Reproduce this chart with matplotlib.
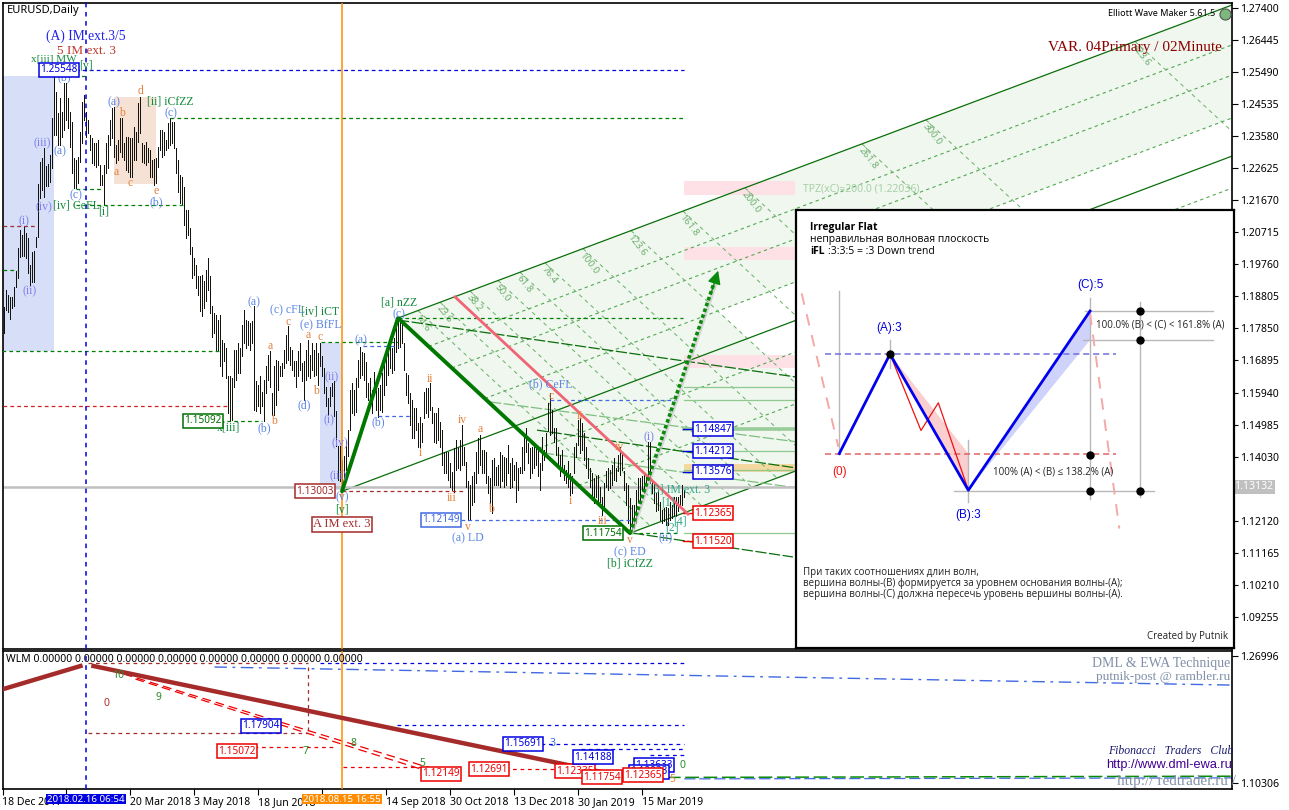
import matplotlib
matplotlib.use("Agg")
import matplotlib.pyplot as plt
from matplotlib.patches import Polygon, Rectangle

# daily bars (first bar is the one next to the left edge)
HIGHS = [
    1.1849, 1.1900, 1.1885, 1.1879, 1.1879, 1.1909, 1.1956, 1.2025, 1.2079, 1.2064, 1.2091, 1.2070, 1.2055,
    1.1974, 1.2013, 1.2016, 1.2058, 1.2216, 1.2281, 1.2293, 1.2323, 1.2269, 1.2275, 1.2302, 1.2412, 1.2543,
    1.2490, 1.2427, 1.2472, 1.2430, 1.2517, 1.2517, 1.2472, 1.2430, 1.2400, 1.2293, 1.2287, 1.2296, 1.2371,
    1.2460, 1.2481, 1.2430, 1.2406, 1.2362, 1.2353, 1.2338, 1.2338, 1.2347, 1.2272, 1.2243, 1.2272, 1.2338,
    1.2362, 1.2406, 1.2442, 1.2445, 1.2332, 1.2347, 1.2412, 1.2412, 1.2338, 1.2356, 1.2356, 1.2353, 1.2353,
    1.2386, 1.2371, 1.2457, 1.2475, 1.2338, 1.2332, 1.2341, 1.2323, 1.2317, 1.2287, 1.2290, 1.2293, 1.2326,
    1.2377, 1.2377, 1.2371, 1.2347, 1.2397, 1.2412, 1.2400, 1.2400, 1.2323, 1.2287, 1.2243, 1.2237, 1.2207,
    1.2138, 1.2138,
    1.2084, 1.2029, 1.1995, 1.1975, 1.1940, 1.1940, 1.1945, 1.1925, 1.1960, 1.1995, 1.1940, 1.1851, 1.1831,
    1.1826, 1.1811, 1.1826, 1.1751, 1.1741, 1.1727, 1.1642, 1.1642, 1.1637, 1.1722, 1.1722, 1.1741, 1.1727,
    1.1796, 1.1841, 1.1811, 1.1806, 1.1801, 1.1806, 1.1851, 1.1627, 1.1617, 1.1642, 1.1597, 1.1632, 1.1672,
    1.1707, 1.1717, 1.1592, 1.1672, 1.1692, 1.1687, 1.1672, 1.1682, 1.1722, 1.1766, 1.1791, 1.1731, 1.1722,
    1.1687, 1.1687, 1.1717, 1.1741, 1.1682, 1.1687, 1.1722, 1.1751, 1.1707, 1.1741, 1.1722, 1.1741, 1.1712,
    1.1741, 1.1702, 1.1667, 1.1612, 1.1578, 1.1612, 1.1622, 1.1627, 1.1538, 1.1434, 1.1434, 1.1394, 1.1404,
    1.1453, 1.1483, 1.1602,
    1.1622, 1.1602, 1.1636, 1.1691, 1.1731, 1.1716, 1.1711, 1.1686, 1.1622, 1.1636, 1.1602, 1.1656, 1.1631,
    1.1607, 1.1617, 1.1651, 1.1696, 1.1696, 1.1721, 1.1741, 1.1726, 1.1756, 1.1785, 1.1805, 1.1810, 1.1800,
    1.1741, 1.1651, 1.1646, 1.1592, 1.1572, 1.1547, 1.1547, 1.1502, 1.1522, 1.1502, 1.1597, 1.1607, 1.1607,
    1.1622, 1.1552, 1.1532, 1.1532, 1.1547, 1.1507, 1.1483, 1.1418, 1.1418, 1.1418, 1.1383, 1.1358, 1.1428,
    1.1453, 1.1428, 1.1453, 1.1497, 1.1433, 1.1388, 1.1329, 1.1319, 1.1344, 1.1358, 1.1418, 1.1458, 1.1468,
    1.1423, 1.1423, 1.1418, 1.1344, 1.1339, 1.1393, 1.1398, 1.1373, 1.1378, 1.1418, 1.1408, 1.1403, 1.1398,
    1.1438, 1.1383, 1.1398, 1.1378, 1.1388, 1.1368, 1.1373, 1.1433, 1.1468, 1.1487, 1.1443,
    1.1428, 1.1433, 1.1443, 1.1428, 1.1433, 1.1384, 1.1463, 1.1423, 1.1473, 1.1562, 1.1592, 1.1542, 1.1488,
    1.1488, 1.1433, 1.1408, 1.1423, 1.1379, 1.1364, 1.1389, 1.1354, 1.1344, 1.1433, 1.1443, 1.1513, 1.1518,
    1.1503, 1.1473, 1.1433, 1.1398, 1.1369, 1.1354, 1.1339, 1.1344, 1.1349, 1.1314, 1.1284, 1.1324, 1.1359,
    1.1369, 1.1364, 1.1379, 1.1398, 1.1369, 1.1408, 1.1433, 1.1413, 1.1359, 1.1324, 1.1319, 1.1279, 1.1259,
    1.1259, 1.1304, 1.1339, 1.1339, 1.1344, 1.1349, 1.1349, 1.1448, 1.1448, 1.1334, 1.1324, 1.1294, 1.1304,
    1.1269, 1.1244, 1.1249, 1.1254, 1.1249, 1.1269, 1.1259, 1.1284, 1.1284, 1.1284, 1.1289, 1.1319, 1.1304,
]
LOWS = [
    1.1772, 1.1840, 1.1834, 1.1813, 1.1846, 1.1852, 1.1909, 1.1936, 1.1998, 1.2001, 1.2001, 1.1995, 1.1950,
    1.1915, 1.1924, 1.1924, 1.2028, 1.2058, 1.2174, 1.2198, 1.2177, 1.2210, 1.2210, 1.2222, 1.2263, 1.2362,
    1.2362, 1.2332, 1.2332, 1.2356, 1.2377, 1.2406, 1.2383, 1.2326, 1.2248, 1.2204, 1.2204, 1.2219, 1.2281,
    1.2338, 1.2406, 1.2356, 1.2368, 1.2317, 1.2278, 1.2272, 1.2266, 1.2272, 1.2213, 1.2213, 1.2153, 1.2248,
    1.2263, 1.2332, 1.2353, 1.2296, 1.2278, 1.2287, 1.2311, 1.2296, 1.2287, 1.2257, 1.2251, 1.2237, 1.2237,
    1.2287, 1.2287, 1.2341, 1.2368, 1.2281, 1.2278, 1.2272, 1.2281, 1.2237, 1.2237, 1.2213, 1.2219, 1.2266,
    1.2317, 1.2296, 1.2302, 1.2317, 1.2323, 1.2332, 1.2338, 1.2323, 1.2248, 1.2192, 1.2159, 1.2153, 1.2094,
    1.2055, 1.2064,
    1.2008, 1.1935, 1.1945, 1.1905, 1.1885, 1.1836, 1.1821, 1.1846, 1.1866, 1.1900, 1.1831, 1.1761, 1.1771,
    1.1717, 1.1717, 1.1672, 1.1642, 1.1687, 1.1637, 1.1533, 1.1513, 1.1513, 1.1612, 1.1632, 1.1652, 1.1652,
    1.1702, 1.1741, 1.1727, 1.1736, 1.1722, 1.1741, 1.1543, 1.1538, 1.1553, 1.1533, 1.1553, 1.1508, 1.1592,
    1.1632, 1.1612, 1.1528, 1.1528, 1.1558, 1.1602, 1.1642, 1.1642, 1.1667, 1.1682, 1.1692, 1.1677, 1.1662,
    1.1642, 1.1612, 1.1642, 1.1662, 1.1627, 1.1573, 1.1632, 1.1642, 1.1637, 1.1662, 1.1642, 1.1647, 1.1617,
    1.1672, 1.1642, 1.1592, 1.1553, 1.1528, 1.1553, 1.1583, 1.1523, 1.1434, 1.1334, 1.1329, 1.1300, 1.1334,
    1.1364, 1.1404, 1.1483,
    1.1532, 1.1527, 1.1537, 1.1612, 1.1636, 1.1646, 1.1631, 1.1582, 1.1572, 1.1552, 1.1532, 1.1592, 1.1542,
    1.1522, 1.1542, 1.1537, 1.1587, 1.1617, 1.1646, 1.1666, 1.1651, 1.1661, 1.1716, 1.1726, 1.1731, 1.1741,
    1.1661, 1.1587, 1.1562, 1.1497, 1.1458, 1.1458, 1.1483, 1.1433, 1.1428, 1.1448, 1.1517, 1.1532, 1.1522,
    1.1542, 1.1502, 1.1448, 1.1443, 1.1453, 1.1433, 1.1378, 1.1353, 1.1353, 1.1334, 1.1314, 1.1304, 1.1299,
    1.1363, 1.1368, 1.1363, 1.1378, 1.1378, 1.1314, 1.1214, 1.1214, 1.1259, 1.1269, 1.1324, 1.1353, 1.1378,
    1.1353, 1.1353, 1.1324, 1.1294, 1.1264, 1.1234, 1.1319, 1.1319, 1.1319, 1.1314, 1.1329, 1.1314, 1.1319,
    1.1353, 1.1309, 1.1314, 1.1334, 1.1269, 1.1304, 1.1353, 1.1353, 1.1363, 1.1418, 1.1383,
    1.1339, 1.1354, 1.1369, 1.1379, 1.1344, 1.1304, 1.1364, 1.1393, 1.1418, 1.1478, 1.1468, 1.1473, 1.1448,
    1.1408, 1.1379, 1.1344, 1.1364, 1.1334, 1.1324, 1.1314, 1.1289, 1.1294, 1.1354, 1.1403, 1.1438, 1.1413,
    1.1423, 1.1393, 1.1369, 1.1339, 1.1314, 1.1284, 1.1264, 1.1284, 1.1264, 1.1269, 1.1230, 1.1249, 1.1314,
    1.1304, 1.1309, 1.1319, 1.1334, 1.1329, 1.1359, 1.1349, 1.1364, 1.1304, 1.1259, 1.1205, 1.1175, 1.1180,
    1.1190, 1.1205, 1.1269, 1.1269, 1.1304, 1.1294, 1.1324, 1.1334, 1.1324, 1.1294, 1.1264, 1.1240, 1.1244,
    1.1215, 1.1205, 1.1210, 1.1200, 1.1200, 1.1215, 1.1220, 1.1225, 1.1225, 1.1240, 1.1254, 1.1259, 1.1284,
]

PRICE_TICKS = [1.27400, 1.26445, 1.25490, 1.24535, 1.23580, 1.22625, 1.21670, 1.20715, 1.19760, 1.18805,
               1.17850, 1.16895, 1.15940, 1.14985, 1.14030, 1.12120, 1.11165, 1.10210, 1.09255]
SUB_TICKS = [1.26996, 1.10306]
# the 31 Jan and 1 Aug labels sit under the date boxes in the original, so they stay empty
DATE_LABELS = ["18 Dec 2017", "", "20 Mar 2018", "3 May 2018", "18 Jun 2018", "",
               "14 Sep 2018", "30 Oct 2018", "13 Dec 2018", "30 Jan 2019", "15 Mar 2019"]
DATE_BARS = [-1, 31, 63, 95, 127, 159, 191, 223, 255, 287, 319]

# the (c) - v zigzag and the channel built on it
ZZ_BARS = [169, 197, 313]
ZZ_PRICES = [1.1300, 1.1816, 1.1175]
RIGHT_BAR = 614
CHANNEL_SLOPE = 0.0002237
CHANNEL_LEVELS = [0.132, 0.232, 0.374, 0.606, 0.778]
FIB_BARS = [207, 218, 233, 247, 258, 270.5, 289.5, 313.5, 339.5, 370.5, 429, 461, 565.5]
FIB_NAMES = ["14.6", "23.6", "38.2", "50.0", "61.8", "76.4", "100.0", "123.6", "161.8", "200.0",
             "261.8", "300.0", "423.6"]

# horizontal levels: (from bar, to bar, price, colour)
LEVELS = [
    (25.5, 340, 1.2554, "#0000e0"),
    (83, 340, 1.2412, "#008000"),
    (36, 90, 1.2153, "#008000"),
    (36, 48.5, 1.2201, "#008000"),
    (25, 41, 1.2537, "#008000"),
    (-1, 107.5, 1.1718, "#008000"),
    (-0.5, 16, 1.2090, "#a52a2a"),
    (-0.5, 6.5, 1.1959, "#008000"),
    (-0.5, 113, 1.1554, "#cc2222"),
    (108, 129, 1.1509, "#008000"),
    (158.5, 197, 1.1745, "#008000"),
    (179.5, 197, 1.1733, "#4169e1"),
    (187, 203.5, 1.1524, "#4169e1"),
    (169, 230.5, 1.1301, "#a52a2a"),
    (228.5, 313, 1.1214, "#4169e1"),
    (273, 336.5, 1.1572, "#4169e1"),
    (197, 339.5, 1.1816, "#008000"),
    (314, 338, 1.1175, "#008000"),
]
# target levels right of the last bar
TARGET_PRICES = [1.1610, 1.1572, 1.1421, 1.1363, 1.1175]
LEADER_PRICES = [1.1485, 1.1420, 1.1357, 1.1235, 1.1152]
LEADER_COLORS = ["#0000e0", "#0000e0", "#0000e0", "#ee0000", "#ee0000"]
# zones: (from bar, to bar, low, high, colour)
ZONES = [
    (-1, 25, 1.1718, 1.2537, "#d6dff7"),
    (158, 169, 1.1304, 1.1742, "#d6dff7"),
    (55, 76, 1.2216, 1.2474, "#f5e2d5"),
    (340, 395.5, 1.2183, 1.2225, "#fde1e6"),
    (340, 395.5, 1.1989, 1.2028, "#fde1e6"),
    (340, 395.5, 1.1667, 1.1706, "#fde1e6"),
    (340, 396.5, 1.1357, 1.1381, "#f3d9a0"),
]
# falling fan lines: (bar, price, bar, price, colour)
FAN_LINES = [
    (197, 1.1810, 396.5, 1.1640, "#0a6e0a"),
    (266.5, 1.1482, 396.5, 1.1369, "#0a6e0a"),
    (314.5, 1.1175, 394.5, 1.1104, "#0a6e0a"),
    (243, 1.1566, 396.5, 1.1447, "#7fbf7f"),
    (269.5, 1.1414, 396.5, 1.1310, "#7fbf7f"),
]

# lower window
SUB_WAVE_BARS = [-0.5, 38, float("nan"), 44.5, 313]
SUB_WAVE_VALUES = [1.2266, 1.2568, float("nan"), 1.2568, 1.1096]
SUB_LEVELS = [
    (42, 152, 1.2608, "#a52a2a"),
    (42, 152, 1.1688, "#a52a2a"),
    (158, 340, 1.2608, "#0000e0"),
    (196.5, 340, 1.1793, "#0000e0"),
    (268.5, 340, 1.1543, "#0000e0"),
    (288.5, 340, 1.1474, "#0000e0"),
    (323, 340, 1.1399, "#0000e0"),
    (125, 164.5, 1.1503, "#ee0000"),
    (169.5, 229.5, 1.1241, "#ee0000"),
    (250.5, 278, 1.1215, "#ee0000"),
]
SUB_FALL_A = ([53, 213], [1.2516, 1.1228])
SUB_FALL_B = ([65.5, 213], [1.2397, 1.1175])
SUB_BLUE_CURVE = ([105, 613], [1.2555, 1.2318])
SUB_GREEN_CURVE = ([313, 614], [1.1103, 1.1120])

# Irregular Flat scheme (its own little coordinate system)
SCHEME_X = [133, 285, 520, 885]
SCHEME_Y = [745, 447, 855, 318]
SCHEME_RED_X = [285, 378, 430, 520]
SCHEME_RED_Y = [447, 676, 593, 855]
SCHEME_DOTS_X = [285, 885, 885, 1036, 1036, 1036]
SCHEME_DOTS_Y = [447, 748, 856, 318, 404, 856]

BLUE = "#5b86e5"
VIOLET = "#8080ee"
ORANGE = "#e5803c"
GREEN = "#128a3c"
TEAL = "#2fa884"
SERIF = "Liberation Serif"
SANS = "Noto Sans"

W, H = 1289, 810
fig = plt.figure(figsize=(W / 100, H / 100), dpi=100, facecolor="white")


def add_box(left, top, right, bottom):
    return fig.add_axes([left / W, 1 - bottom / H, (right - left) / W, (bottom - top) / H])


def label(x, y, text, color, size=8.5, family=SERIF, ha="center", **kw):
    fig.text(x / W, 1 - y / H, text, color=color, size=size, family=family, ha=ha, va="center", **kw)


def price_box(x, y, text, color, size=7.2, fc="white"):
    label(x, y, text, color, size=size, family=SANS, zorder=6,
          bbox=dict(boxstyle="square,pad=0.12", fc=fc, ec=color, lw=1.1))


ax = add_box(2.5, 2.5, 1232, 649)
ax.set_xlim(-0.75, RIGHT_BAR)
ax.set_ylim(1.08298, 1.27563)
sub = add_box(2.5, 650.5, 1232, 789)
sub.set_xlim(-0.75, RIGHT_BAR)
sub.set_ylim(1.0952, 1.2772)

for a in (ax, sub):
    a.yaxis.tick_right()
    for side in a.spines.values():
        side.set_linewidth(1.2)
    a.tick_params(axis="y", length=4, width=0.8, labelsize=7.5, pad=2)

ax.set_yticks(PRICE_TICKS)
ax.set_yticklabels(["%.5f" % v for v in PRICE_TICKS], family=SANS)
ax.set_xticks([])
sub.set_yticks(SUB_TICKS)
sub.set_yticklabels(["%.5f" % v for v in SUB_TICKS], family=SANS)
sub.set_xticks(DATE_BARS)
sub.set_xticklabels(DATE_LABELS, ha="left", family=SANS, size=7.5)
sub.tick_params(axis="x", length=4, width=0.8, pad=2)

# zones
for x0, x1, lo, hi, col in ZONES[:3]:
    ax.add_patch(Rectangle((x0, lo), x1 - x0, hi - lo, fc=col, ec="none", zorder=0))


# channel geometry
def top_line(bar):
    return ZZ_PRICES[1] + CHANNEL_SLOPE * (bar - ZZ_BARS[1])


span = top_line(ZZ_BARS[2]) - ZZ_PRICES[2]
cross_slope = (ZZ_PRICES[2] - ZZ_PRICES[1]) / (ZZ_BARS[2] - ZZ_BARS[1])
cross_run = span / (CHANNEL_SLOPE - cross_slope)


def level_line(level, bar):
    return top_line(bar) - level * span


def level_start(level):
    return ZZ_BARS[1] + (ZZ_BARS[2] - ZZ_BARS[1]) * level


# tint of the channel
tint = "#eff7ef"
lev = CHANNEL_LEVELS[2]
ax.add_patch(Polygon([(ZZ_BARS[1], ZZ_PRICES[1]), (RIGHT_BAR, top_line(RIGHT_BAR)),
                      (RIGHT_BAR, level_line(lev, RIGHT_BAR)),
                      (level_start(lev), level_line(lev, level_start(lev)))], fc=tint, ec="none", zorder=0.5))
edge = FIB_BARS[7]
ax.add_patch(Polygon([(level_start(lev), level_line(lev, level_start(lev))),
                      (edge + lev * cross_run, level_line(lev, edge + lev * cross_run)),
                      (edge + cross_run, level_line(1, edge + cross_run)),
                      (ZZ_BARS[2], ZZ_PRICES[2])], fc=tint, ec="none", zorder=0.5))

for x0, x1, lo, hi, col in ZONES[3:]:
    ax.add_patch(Rectangle((x0, lo), x1 - x0, hi - lo, fc=col, ec="none", zorder=0.6))

# channel dashed levels and cross lines
for lev in CHANNEL_LEVELS:
    s = level_start(lev)
    ax.plot([s, RIGHT_BAR], [level_line(lev, s), level_line(lev, RIGHT_BAR)], color="#52a852", lw=0.8,
            ls=(0, (3, 3)), zorder=1)
for bar, name in zip(FIB_BARS, FIB_NAMES):
    end = min(bar + cross_run, RIGHT_BAR)
    ax.plot([bar, end], [top_line(bar), top_line(bar) + cross_slope * (end - bar)], color="#66b066", lw=0.7,
            ls=(0, (4, 4)), zorder=1)
    ax.text(bar + 1, top_line(bar) - 0.0005, name, color="#6fae6f", size=7, rotation=-52, family=SANS,
            ha="left", va="top", rotation_mode="anchor", zorder=2)

# solid channel edges
ax.plot([ZZ_BARS[1], RIGHT_BAR], [ZZ_PRICES[1], top_line(RIGHT_BAR)], color="#0a6e0a", lw=0.9, zorder=2)
ax.plot([ZZ_BARS[0], RIGHT_BAR], [ZZ_PRICES[0], level_line(0.5, RIGHT_BAR)], color="#0a6e0a", lw=0.9, zorder=2)
ax.plot([ZZ_BARS[2], RIGHT_BAR], [ZZ_PRICES[2], level_line(1, RIGHT_BAR)], color="#0a6e0a", lw=0.9, zorder=2)
for x0, y0, x1, y1, col in FAN_LINES:
    ax.plot([x0, x1], [y0, y1], color=col, lw=0.9, ls=(0, (9, 2)), zorder=2)
for p in TARGET_PRICES:
    ax.plot([340, 396.5], [p, p], color="#8fc98f", lw=0.9, zorder=2)
ax.plot([340, 396.5], [1.1484, 1.1484], color="#99cc99", lw=2.6, zorder=2)

# price bars
bars = ax.vlines(range(len(HIGHS)), LOWS, HIGHS, color="#14140f", lw=0.72, zorder=3)
bars.set_snap(True)
bars.set_antialiased(False)

# levels
ax.axhline(1.13132, color="#c0c0c0", lw=1.8, zorder=2.5)
for x0, x1, p, col in LEVELS:
    ax.plot([x0, x1], [p, p], color=col, lw=0.9, ls=(0, (3, 2.5)), zorder=3)
for p, col in zip(LEADER_PRICES, LEADER_COLORS):
    ax.plot([339.5, 345.5], [p, p], color=col, lw=1, zorder=3)
for a in (ax, sub):
    a.axvline(41, color="#0000e0", lw=1.1, ls=(0, (3, 3)), zorder=3)
    a.axvline(169, color="#ff8c00", lw=1.1, zorder=3)

# zigzag, red line and the forecast arrow
ax.plot(ZZ_BARS, ZZ_PRICES, color="#007800", lw=2.8, zorder=4, solid_capstyle="round")
ax.plot([225.5, 342], [1.1879, 1.1232], color="#f06474", lw=2, zorder=4)
ax.plot([314, 356], [1.1175, 1.1920], color="#c8c8c8", lw=2.4, alpha=0.7, zorder=3.5)
ax.plot([313, 355], [1.1175, 1.1920], color="#0a8a0a", lw=2.6, ls=(0, (1, 0.7)), zorder=4)
ax.annotate("", xy=(357.5, 1.1965), xytext=(353, 1.1880), zorder=4,
            arrowprops=dict(arrowstyle="-|>", color="#0a8a0a", lw=1, mutation_scale=20))
ax.plot([610.5], [1.2723], "o", ms=8, color="#7cb87c", mec="#555555", mew=0.8, zorder=5)

# lower window
sub.plot(SUB_WAVE_BARS, SUB_WAVE_VALUES, color="#a52a2a", lw=3.2, zorder=4)
for x0, x1, p, col in SUB_LEVELS:
    sub.plot([x0, x1], [p, p], color=col, lw=0.9, ls=(0, (3, 3)), zorder=3)
sub.plot([152, 152], [1.2560, 1.1688], color="#a52a2a", lw=0.9, ls=(0, (3, 3)))
sub.plot(*SUB_FALL_A, color="#ee0000", lw=0.9, ls=(0, (7, 4)), zorder=2)
sub.plot(*SUB_FALL_B, color="#ee0000", lw=0.9, ls=(0, (7, 4)), zorder=2)
sub.plot(*SUB_BLUE_CURVE, color="#4169e1", lw=1, ls=(0, (9, 4, 2, 4)), zorder=2)
sub.plot(*SUB_GREEN_CURVE, color="#0a8a0a", lw=1.1, ls=(0, (9, 3)), zorder=3)
sub.plot([340, 614], [1.1085, 1.1098], color="#4169e1", lw=0.9, ls=(0, (9, 3)), zorder=2)

# scheme panel
panel = add_box(796, 210, 1234, 648)
panel.set_zorder(5)
panel.set_xlim(3, 1317)
panel.set_ylim(1328, 15)
panel.set_xticks([])
panel.set_yticks([])
for side in panel.spines.values():
    side.set_linewidth(1.6)
panel.add_patch(Polygon([(285, 447), (520, 745), (520, 855)], fc="#fbcfcf", ec="none"))
panel.add_patch(Polygon([(885, 318), (885, 405), (520, 855)], fc="#cfd2fa", ec="none"))
grey = dict(color="#b8b8b8", lw=1)
panel.plot([133, 133], [258, 745], **grey)
panel.plot([285, 285], [405, 490], **grey)
panel.plot([520, 520], [705, 890], **grey)
panel.plot([885, 885], [278, 880], **grey)
panel.plot([1036, 1036], [290, 875], **grey)
panel.plot([870, 1255], [318, 318], **grey)
panel.plot([865, 1255], [404, 404], **grey)
panel.plot([478, 1078], [856, 856], **grey)
panel.plot([90, 962], [447, 447], color="#6f6fdc", lw=1.1, ls=(0, (4, 2.5)))
panel.plot([90, 962], [747, 747], color="#e06464", lw=1.1, ls=(0, (4, 2.5)))
panel.plot([20, 130], [265, 725], color="#f4a8a8", lw=1.4, ls=(0, (6, 5)))
panel.plot([885, 973], [325, 970], color="#f4a8a8", lw=1.4, ls=(0, (6, 5)))
panel.plot(SCHEME_RED_X, SCHEME_RED_Y, color="#ee1111", lw=0.9)
panel.plot(SCHEME_X, SCHEME_Y, color="#0000ee", lw=2)
panel.plot(SCHEME_DOTS_X, SCHEME_DOTS_Y, "o", color="black", ms=5, ls="none")

OS = "Open Sans"
panel.text(46, 67, "Irregular Flat", size=7.5, weight="bold", family=OS, va="center")
panel.text(46, 104, "неправильная волновая плоскость", size=7.5, family=OS, va="center")
panel.text(46, 139, "iFL", size=7.5, weight="bold", family=OS, va="center")
panel.text(100, 139, ":3:3:5 = :3 Down trend", size=7.5, family=OS, va="center")
panel.text(133, 800, "(0)", size=8.5, color="#ee1111", family="Liberation Sans", ha="center", va="center")
panel.text(283, 369, "(A):3", size=8.5, color="#0000dd", family="Liberation Sans", ha="center", va="center")
panel.text(520, 928, "(B):3", size=8.5, color="#0000dd", family="Liberation Sans", ha="center", va="center")
panel.text(885, 239, "(C):5", size=8.5, color="#0000dd", family="Liberation Sans", ha="center", va="center")
panel.text(594, 800, "100% (A) < (B) ≤ 138.2% (A)", size=7, family=OS, va="center", color="#222222")
panel.text(904, 361, "100.0% (B) < (C) < 161.8% (A)", size=7, family=OS, va="center", color="#222222")
panel.text(23, 1101, "При таких соотношениях длин волн,", size=7, family=OS, va="center", color="#222222")
panel.text(23, 1134, "вершина волны-(B) формируется за уровнем основания волны-(A);", size=7, family=OS,
           va="center", color="#222222")
panel.text(23, 1167, "вершина волны-(C) должна пересечь уровень вершины волны-(A).", size=7, family=OS,
           va="center", color="#222222")
panel.text(1298, 1295, "Created by Putnik", size=7, family=OS, ha="right", va="center", color="#222222")

# wave labels on the main window
label(7, 10, "EURUSD,Daily", "black", 8, SANS, ha="left")
label(86, 36, "(A) IM ext.3/5", "#2222ee", 9.8)
label(86, 51, "5 IM ext. 3", "#c0392b", 9.5)
label(54, 59, "x[iii] MW", GREEN, 8)
price_box(59, 70, "1.25548", "#0000e0")
WAVE_LABELS = [
    (86, 65, "[v]", GREEN), (64, 77, "(b)", BLUE), (42, 143, "(iii)", VIOLET), (44, 207, "(iv)", VIOLET),
    (76, 206, "[iv] CeFL", GREEN), (60, 151, "(a)", BLUE), (76, 195, "(c)", BLUE), (24, 221, "(i)", VIOLET),
    (30, 291, "(ii)", VIOLET), (104, 212, "[i]", GREEN), (156, 202, "(b)", BLUE), (114, 102, "(a)", BLUE),
    (122, 113, "b", ORANGE), (116, 172, "a", ORANGE), (130, 183, "c", ORANGE), (140, 91, "d", ORANGE),
    (156, 191, "e", ORANGE), (170, 101, "[ii] iCfZZ", GREEN), (171, 113, "(c)", BLUE),
    (254, 302, "(a)", BLUE), (288, 310, "(c) cFL", BLUE), (320, 312, "[iv] iCT", GREEN),
    (321, 325, "(e) BfFL", BLUE), (288, 322, "c", ORANGE), (270, 346, "a", ORANGE), (308, 335, "a", ORANGE),
    (320, 337, "c", ORANGE), (316, 391, "b", ORANGE), (304, 405, "(d)", BLUE), (264, 428, "(b)", BLUE),
    (274, 421, "b", ORANGE), (332, 377, "(ii)", VIOLET), (329, 420, "(i)", VIOLET), (340, 443, "(iv)", VIOLET),
    (338, 476, "(iii)", VIOLET), (342, 497, "(v)", BLUE), (342, 510, "[v]", GREEN), (229, 427, "x[iii]", GREEN),
    (361, 340, "(a)", BLUE), (378, 422, "(b)", BLUE), (399, 314, "(c)", BLUE), (399, 302, "[a] nZZ", GREEN),
    (430, 379, "ii", ORANGE), (551, 384, "(b) CeFL", BLUE), (551, 396, "c", ORANGE), (420, 453, "i", ORANGE),
    (462, 420, "iv", ORANGE), (480, 429, "a", ORANGE), (452, 498, "iii", ORANGE), (491, 509, "b", ORANGE),
    (468, 527, "v", ORANGE), (468, 538, "(a) LD", BLUE), (580, 416, "ii", ORANGE), (619, 447, "iv", ORANGE),
    (649, 437, "(i)", VIOLET), (570, 501, "i", ORANGE), (603, 521, "iii", ORANGE), (630, 540, "v", ORANGE),
    (630, 552, "(c) ED", BLUE), (630, 563, "[b] iCfZZ", GREEN), (680, 490, "[3] IM ext. 3", TEAL),
    (668, 502, "[1]", TEAL), (680, 522, "[4]", TEAL), (672, 528, "[2]", TEAL), (666, 538, "(ii)", BLUE),
]
for x, y, text, col in WAVE_LABELS:
    label(x, y, text, col)
label(342, 524, "A IM ext. 3", "#a52a2a", 9,
      bbox=dict(boxstyle="square,pad=0.12", fc="white", ec="#a52a2a", lw=1.1))
price_box(203, 421, "1.15092", "#007000")
price_box(315, 491, "1.13003", "#a52a2a")
price_box(441, 520, "1.12149", "#4169e1")
price_box(603, 533, "1.11754", "#007000")
price_box(713, 429, "1.14847", "#0000e0")
price_box(713, 451, "1.14212", "#0000e0")
price_box(713, 472, "1.13576", "#0000e0")
price_box(713, 513, "1.12365", "#ee0000")
price_box(713, 541, "1.11520", "#ee0000")
label(803, 189, "TPZ(xC)=200.0 (1.22036)", "#a8d0a8", 7.5, SANS, ha="left")
label(1108, 14, "Elliott Wave Maker 5.61.5", "black", 6.5, SANS, ha="left")
label(1222, 47, "VAR. 04Primary / 02Minute", "#8b0000", 11, ha="right")
label(1234, 487, "1.13132", "white", 7.5, SANS, ha="left",
      bbox=dict(boxstyle="square,pad=0.15", fc="#c0c0c0", ec="none"))

# lower window labels
label(6, 660, "WLM 0.00000 0.00000 0.00000 0.00000 0.00000 0.00000 0.00000 0.00000", "black", 7.5, SANS,
      ha="left")
price_box(261, 726, "1.17904", "#0000e0")
price_box(237, 751, "1.15072", "#ee0000")
price_box(441, 774, "1.12149", "#ee0000")
price_box(489, 769, "1.12691", "#ee0000")
price_box(575, 771, "1.12335", "#ee0000")
price_box(523, 744, "1.15691", "#0000e0")
price_box(593, 757, "1.14188", "#0000e0")
price_box(654, 765, "1.13633", "#0000e0")
price_box(649, 772, "1.12933", "#0000e0")
price_box(602, 777, "1.11754", "#ee0000")
price_box(643, 775, "1.12365", "#ee0000")
for x, y, text, col in [(106, 704, "0", "#a52a2a"), (118, 675, "10", "#2a8a2a"), (158, 698, "9", "#2a8a2a"),
                        (305, 751, "7", "#2a8a2a"), (354, 744, "8", "#2a8a2a"), (422, 763, "5", "#2a8a2a"),
                        (553, 744, "3", "#4169e1"), (682, 765, "0", "#2a8a2a"), (672, 779, "5", ORANGE)]:
    label(x, y, text, col, 7.5, SANS)
label(1230, 664, "DML & EWA Technique", "#8090a8", 10, ha="right")
label(1230, 677, "putnik-post @ rambler.ru", "#8090a8", 9.5, ha="right")
label(1233, 751, "Fibonacci   Traders   Club", "#191970", 8.5, ha="right", style="italic")
label(1232, 765, "http://www.dml-ewa.ru", "#400090", 9.2, "Liberation Sans", ha="right")
label(1236, 781, "http:// redtrader.ru /", "#8090a8", 11, ha="right")

label(86, 799, "2018.02.16 06:54", "white", 7, SANS,
      bbox=dict(boxstyle="square,pad=0.1", fc="#0000e0", ec="none"))
label(342, 799, "2018.08.15 16:55", "white", 7, SANS,
      bbox=dict(boxstyle="square,pad=0.1", fc="#ff8c00", ec="none"))

fig.savefig("out.png", dpi=100)
